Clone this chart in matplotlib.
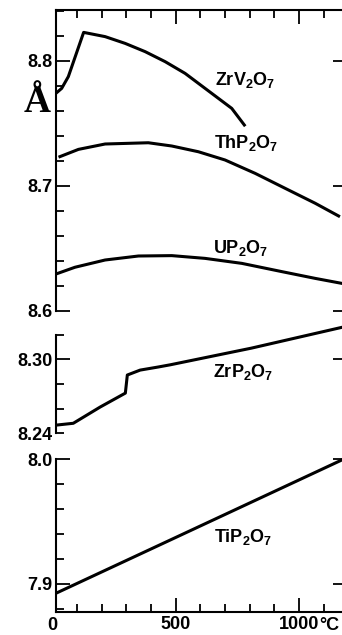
import matplotlib.pyplot as plt
from matplotlib.ticker import MultipleLocator, FixedLocator

plt.rcParams['font.family'] = ['Liberation Sans', 'DejaVu Sans']
plt.rcParams['font.weight'] = 'bold'
plt.rcParams['mathtext.fontset'] = 'custom'
plt.rcParams['mathtext.bf'] = 'Liberation Sans:bold'
plt.rcParams['mathtext.rm'] = 'Liberation Sans:bold'
plt.rcParams['mathtext.default'] = 'bf'

# lattice parameter (Angstrom) vs temperature (deg C)
zrv_t = [15, 38, 65, 127, 214, 295, 376, 457, 538, 619, 673, 727, 778]
zrv_a = [8.7742, 8.7781, 8.7875, 8.8229, 8.8195, 8.8141, 8.8075, 8.7995, 8.7901,
         8.7781, 8.7701, 8.7621, 8.7488]

thp_t = [31, 106, 214, 389, 484, 592, 700, 822, 957, 1065, 1160]
thp_a = [8.7235, 8.7293, 8.7336, 8.7346, 8.732, 8.7274, 8.7208, 8.7101, 8.6968, 8.6862, 8.676]

up_t = [15, 92, 214, 349, 484, 619, 768, 930, 1065, 1173]
up_a = [8.6296, 8.635, 8.6408, 8.644, 8.6443, 8.6421, 8.6381, 8.6315, 8.6261, 8.6221]

zrp_t = [15, 85, 194, 296, 304, 356, 429, 478, 806, 1175]
zrp_a = [8.2465, 8.248, 8.2612, 8.2725, 8.2872, 8.2912, 8.2937, 8.2955, 8.309, 8.326]

tip_t = [15, 478, 1175]
tip_a = [7.8926, 7.9352, 7.9994]

W, H = 342, 635
fig = plt.figure(figsize=(W / 100, H / 100), dpi=100)

left = 55.5 / W
width = (347 - 55.5) / W
xmin, xmax = 13, 1194

ax1 = fig.add_axes([left, 1 - 311 / H, width, (311 - 10) / H])
ax2 = fig.add_axes([left, 1 - 435.6 / H, width, (435.6 - 310) / H])
ax3 = fig.add_axes([left, 1 - 611.5 / H, width, (611.5 - 456.5) / H])

lw = 2.2
ax1.plot(zrv_t, zrv_a, color='black', lw=lw)
ax1.plot(thp_t, thp_a, color='black', lw=lw)
ax1.plot(up_t, up_a, color='black', lw=lw)
ax2.plot(zrp_t, zrp_a, color='black', lw=lw)
ax3.plot(tip_t, tip_a, color='black', lw=lw)

fs = 13
for ax in (ax1, ax2, ax3):
    ax.set_facecolor('none')
    ax.set_xlim(xmin, xmax)
    for s in ax.spines.values():
        s.set_linewidth(1.5)
    ax.tick_params(which='both', direction='in', width=1.3, labelsize=fs, pad=2)
    ax.tick_params(which='major', length=10)
    ax.tick_params(which='minor', length=6)
    ax.xaxis.set_major_locator(FixedLocator([500, 1000]))
    ax.xaxis.set_minor_locator(MultipleLocator(100))

# top panel
ax1.set_ylim(8.6, 8.8408)
ax1.set_yticks([8.6, 8.7, 8.8])
ax1.yaxis.set_minor_locator(MultipleLocator(0.02))
ax1.spines['bottom'].set_visible(False)
ax1.tick_params(axis='x', which='both', bottom=False, top=True, labelbottom=False)
ax1.tick_params(axis='y', which='major', right=True)

# ZrP2O7 panel
ax2.set_ylim(8.238, 8.34)
ax2.set_yticks([8.30], ['8.30'])
ax2.yaxis.set_minor_locator(FixedLocator([8.24, 8.26, 8.28, 8.32]))
ax2.yaxis.set_minor_formatter(lambda v, p: '8.24' if abs(v - 8.24) < 1e-6 else '')
ax2.tick_params(axis='y', which='minor', labelsize=fs, pad=2)
ax2.spines['left'].set_bounds(8.24, 8.32)
for s in ('top', 'bottom', 'right'):
    ax2.spines[s].set_visible(False)
ax2.tick_params(axis='x', which='both', bottom=False, labelbottom=False)
ax2.tick_params(axis='y', which='major', right=True)

# TiP2O7 panel
ax3.set_ylim(7.878, 8.002)
ax3.set_yticks([7.9, 8.0])
ax3.yaxis.set_minor_locator(MultipleLocator(0.02))
ax3.spines['left'].set_bounds(7.878, 8.0)
ax3.spines['top'].set_visible(False)
ax3.tick_params(axis='y', which='major', right=True)
ax3.set_xticklabels(['500', '1000'])
ax3.tick_params(axis='x', which='major', pad=3)
ax3.text(0, -0.035, '0', transform=ax3.get_xaxis_transform(), ha='center', va='top',
         fontsize=fs, fontweight='bold', clip_on=False)
ax3.annotate('°C', xy=(1000, 0), xycoords=ax3.get_xaxis_transform(),
             xytext=(14.6, -3.8), textcoords='offset points', ha='left', va='top',
             fontsize=fs, fontweight='bold', annotation_clip=False)

# compound labels
lab = dict(ha='center', va='center', fontsize=13, fontweight='bold')
ax1.text(781, 8.7848, r'ZrV$_2$O$_7$', **lab)
ax1.text(785, 8.7344, r'ThP$_2$O$_7$', **lab)
ax1.text(761, 8.6504, r'UP$_2$O$_7$', **lab)
ax2.text(773, 8.2896, r'ZrP$_2$O$_7$', **lab)
ax3.text(773, 7.9376, r'TiP$_2$O$_7$', **lab)

fig.text(37 / W, 1 - 102 / H, 'Å', ha='center', va='center', fontsize=27,
         fontweight='bold', family=['Liberation Serif', 'DejaVu Serif'])

fig.savefig('out.png', dpi=100)
